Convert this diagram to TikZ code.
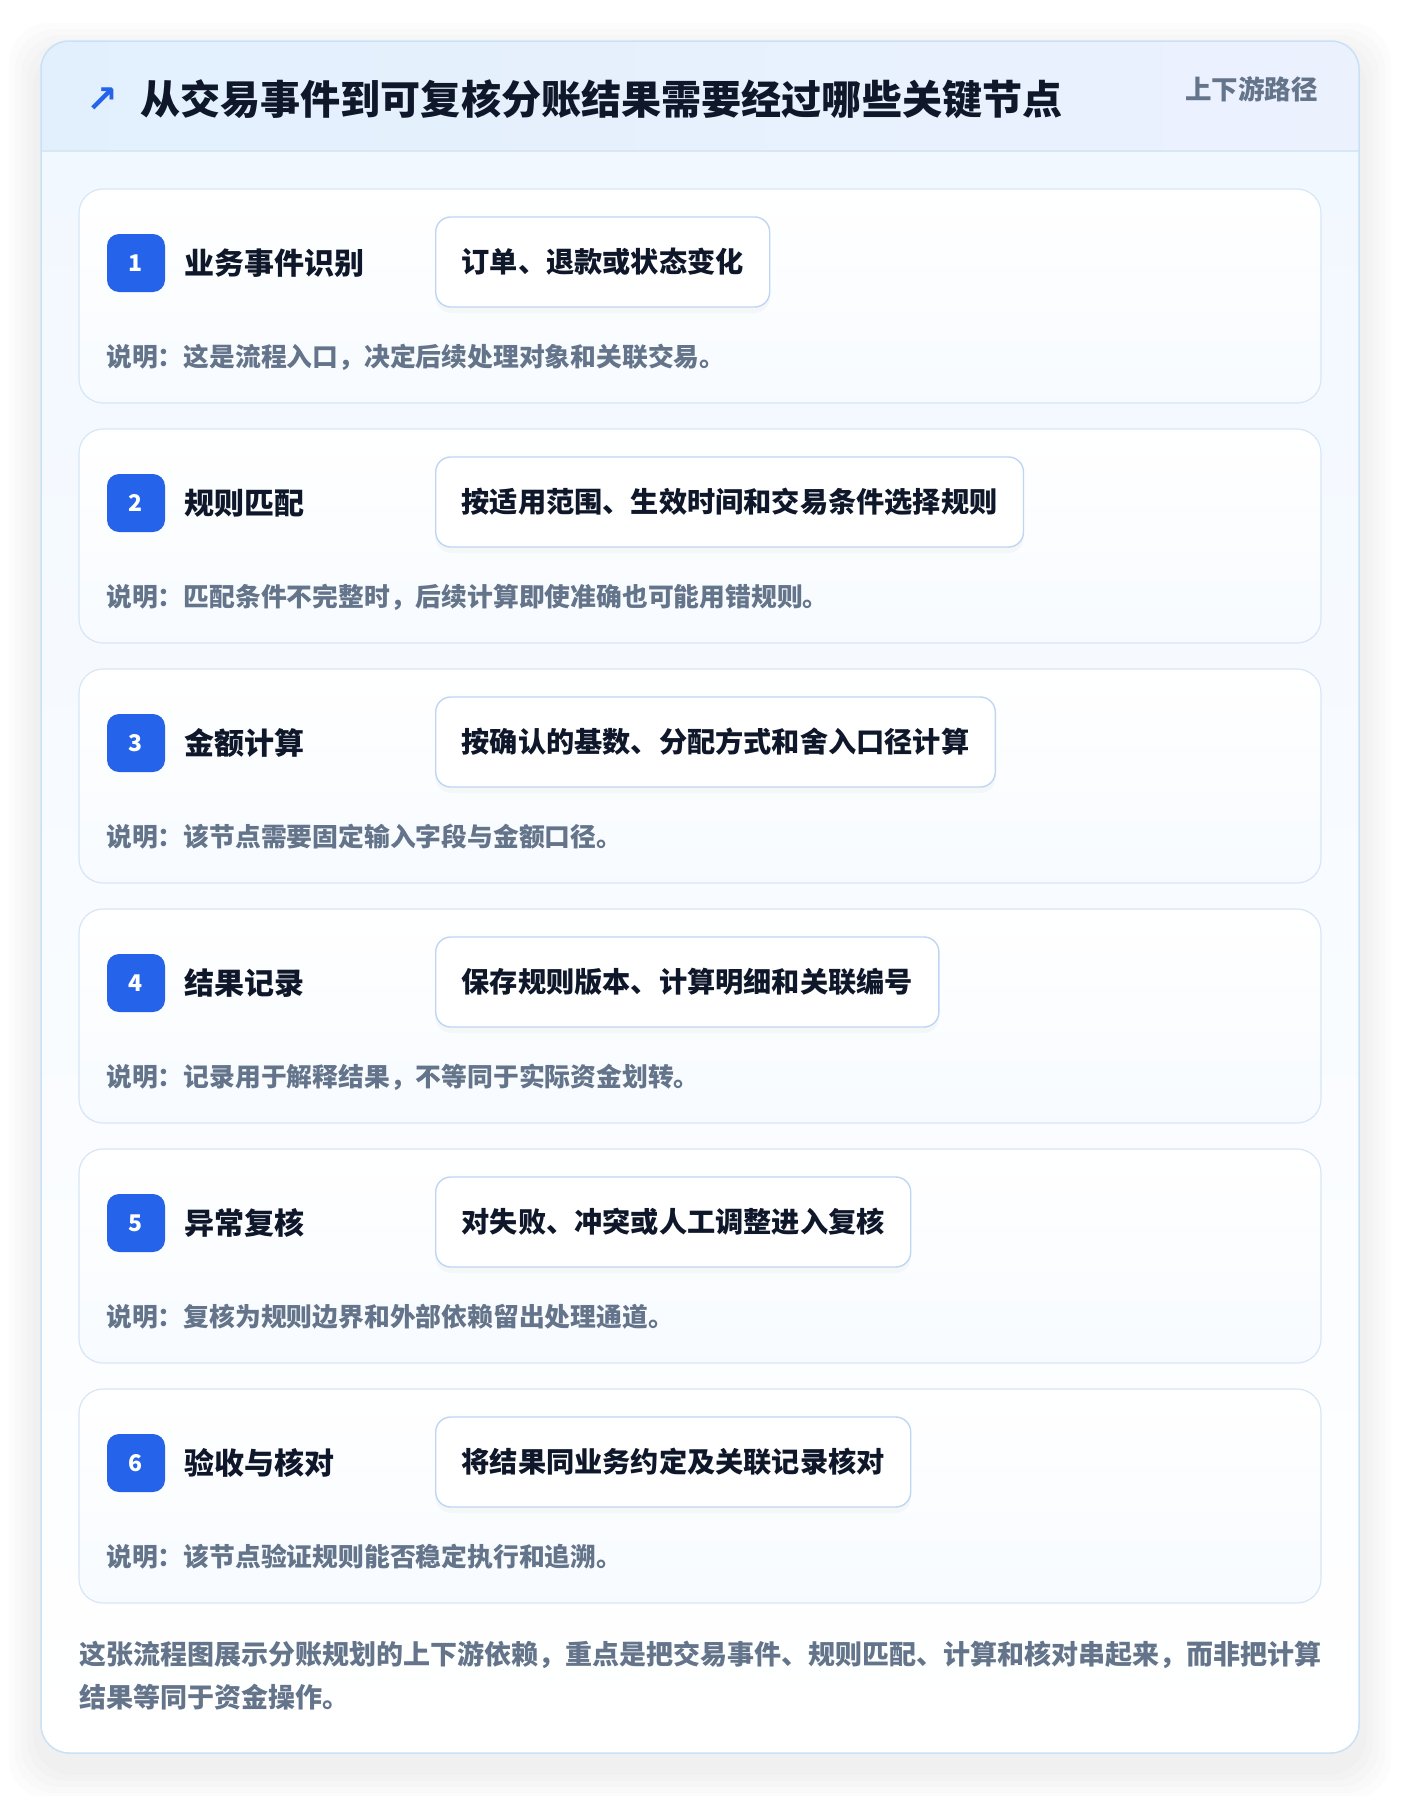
\documentclass[tikz,border=0pt]{standalone}
\usepackage{fontspec}
\setmainfont{Noto Sans CJK SC}
\newfontfamily\symfont{DejaVu Sans}
\usetikzlibrary{positioning,shadows}
\definecolor{inkdark}{HTML}{0F172A}
\definecolor{inkgrey}{HTML}{64748B}
\definecolor{badgeblue}{HTML}{2563EB}
\definecolor{cardline}{HTML}{C9E1F6}
\definecolor{panelline}{HTML}{D8E6F6}
\definecolor{boxline}{HTML}{BFD6F3}
\definecolor{headtop}{HTML}{E2F0FD}
\definecolor{headright}{HTML}{ECF1FE}
\definecolor{bodytop}{HTML}{F2F8FF}
\tikzset{
  stepbadge/.style={fill=badgeblue, rounded corners=12pt, minimum size=58pt, inner sep=0pt,
    text=white, font=\bfseries\fontsize{23}{26}\selectfont},
  steptitle/.style={anchor=west, inner sep=0pt, text=inkdark, font=\bfseries\fontsize{30}{34}\selectfont},
  stepbox/.style={anchor=west, draw=boxline, line width=1.4pt, fill=white, rounded corners=15pt,
    minimum height=90pt, inner xsep=26pt, text=inkdark, font=\bfseries\fontsize{28.2}{32}\selectfont,
    drop shadow={opacity=0.05, shadow xshift=0pt, shadow yshift=-6pt}},
  stepnote/.style={anchor=west, inner sep=0pt, text=inkgrey, font=\bfseries\fontsize{25.8}{29}\selectfont},
  steppanel/.style={draw=panelline, line width=1.2pt, rounded corners=24pt, top color=white, bottom color=bodytop!60},
}
\begin{document}
\begin{tikzpicture}[x=1pt,y=-1pt]
\fill[white] (0,0) rectangle (1400,1796);
\useasboundingbox (0,0) rectangle (1400,1796);
% soft shadow round the card
\foreach \s in {32,26,20,14,8}
  \fill[black, opacity=0.013, rounded corners=40pt] (41-\s,41-\s+14) rectangle (1359+\s,1753+\s+14);
\fill[white, rounded corners=28pt] (41,41) rectangle (1359,1753);
\begin{scope}
  \clip[rounded corners=28pt] (41,41) rectangle (1359,1753);
  \shade[top color=bodytop, bottom color=white] (41,151) rectangle (1359,1753);
  \shade[left color=headtop, right color=headright] (41,41) rectangle (1359,151);
  \draw[panelline, line width=1.5pt] (41,151) -- (1359,151);
\end{scope}
\draw[cardline, line width=1.5pt, rounded corners=28pt] (41,41) rectangle (1359,1753);
% header
\node[text=badgeblue, font=\symfont\bfseries\fontsize{38}{40}\selectfont] (icon) at (102,100) {↗};
\node[anchor=west, inner sep=0pt, text=inkdark, font=\bfseries\fontsize{40.1}{46}\selectfont] (title) at (140,99)
  {从交易事件到可复核分账结果需要经过哪些关键节点};
\node[anchor=east, inner sep=0pt, text=inkgrey, font=\bfseries\fontsize{26.5}{30}\selectfont] (tag) at (1318,89) {上下游路径};
% steps
\foreach \n/\ti/\bx/\ds in {
  1/业务事件识别/订单、退款或状态变化/说明：这是流程入口，决定后续处理对象和关联交易。,
  2/规则匹配/按适用范围、生效时间和交易条件选择规则/说明：匹配条件不完整时，后续计算即使准确也可能用错规则。,
  3/金额计算/按确认的基数、分配方式和舍入口径计算/说明：该节点需要固定输入字段与金额口径。,
  4/结果记录/保存规则版本、计算明细和关联编号/说明：记录用于解释结果，不等同于实际资金划转。,
  5/异常复核/对失败、冲突或人工调整进入复核/说明：复核为规则边界和外部依赖留出处理通道。,
  6/验收与核对/将结果同业务约定及关联记录核对/说明：该节点验证规则能否稳定执行和追溯。} {
  \pgfmathsetmacro{\yt}{189+240*(\n-1)}
  \draw[steppanel] (79,\yt) rectangle (1321,\yt+214);
  \node[stepbadge] (badge\n) at (136,\yt+74) {\n};
  \node[steptitle] (name\n) at (184,\yt+74) {\ti};
  \node[stepbox] (box\n) at (435,\yt+73) {\bx};
  \node[stepnote] (note\n) at (106,\yt+168) {\ds};
}
% footer
\node[anchor=west, inner sep=0pt, text=inkgrey, font=\bfseries\fontsize{27}{30}\selectfont] (foot1) at (79,1655)
  {这张流程图展示分账规划的上下游依赖，重点是把交易事件、规则匹配、计算和核对串起来，而非把计算};
\node[anchor=west, inner sep=0pt, text=inkgrey, font=\bfseries\fontsize{27}{30}\selectfont] (foot2) at (79,1697)
  {结果等同于资金操作。};
\end{tikzpicture}
\end{document}
